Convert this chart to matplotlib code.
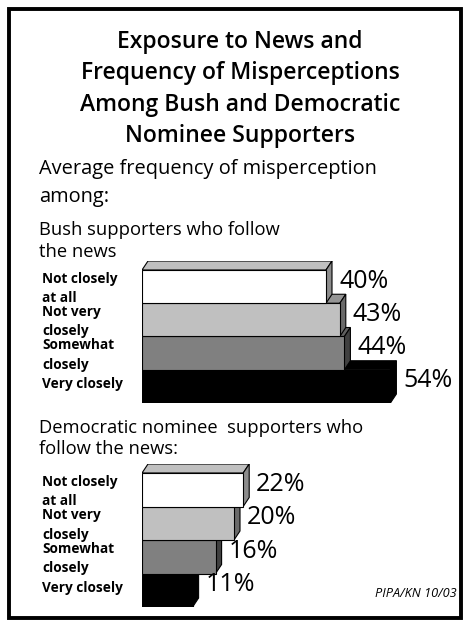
import matplotlib.pyplot as plt
from matplotlib.patches import Polygon, Rectangle
from matplotlib.transforms import offset_copy

plt.rcParams['font.family'] = ['Open Sans', 'DejaVu Sans']

categories = ["Not closely\nat all", "Not very\nclosely", "Somewhat\nclosely", "Very closely"]
bush_values = [40, 43, 44, 54]
dem_values = [22, 20, 16, 11]
bar_colors = ["white", "#c0c0c0", "#808080", "black"]
top_colors = ["#c0c0c0", "#959595", "#606060", "black"]
side_colors = ["#8c8c8c", "#6a6a6a", "#404040", "black"]

W, H = 467, 622
fig = plt.figure(figsize=(W / 100, H / 100), dpi=100)


def fx(x):
    return x / W


def fy(y):
    return 1 - y / H


# outer frame
fig.patches.append(Rectangle((fx(9), fy(618)), fx(452), 609 / H, transform=fig.transFigure,
                             fill=False, edgecolor="black", linewidth=2.8))

title_lines = ["Exposure to News and", "Frequency of Misperceptions",
               "Among Bush and Democratic", "Nominee Supporters"]
for k, line in enumerate(title_lines):
    fig.text(fx(240), fy(48 + 31.3 * k), line, ha="center", va="baseline",
             fontsize=16.5, fontweight="semibold")

fig.text(fx(39), fy(174), "Average frequency of misperception", ha="left", va="baseline", fontsize=14.4)
fig.text(fx(39), fy(202), "among:", ha="left", va="baseline", fontsize=14.4)
fig.text(fx(39), fy(235), "Bush supporters who follow", ha="left", va="baseline", fontsize=13.2)
fig.text(fx(39), fy(257), "the news", ha="left", va="baseline", fontsize=13.2)
fig.text(fx(39), fy(433), "Democratic nominee  supporters who", ha="left", va="baseline", fontsize=13.2)
fig.text(fx(39), fy(454), "follow the news:", ha="left", va="baseline", fontsize=13.2)
fig.text(fx(457), fy(597), "PIPA/KN 10/03", ha="right", va="baseline", fontsize=9.2, style="italic")

px_per_pct = 4.6
dx = 6 / px_per_pct


def draw_group(values, bar_top, bar_bottom):
    n = len(values)
    unit = (bar_bottom - bar_top) / n
    dy = 9 / unit
    ax_h = (n + dy) * unit
    ax = fig.add_axes([fx(142), fy(bar_bottom), 322 / W, ax_h / H])
    ax.set_xlim(0, 322 / px_per_pct)
    ax.set_ylim(n - 0.5, -0.5 - dy)
    ax.axis("off")
    ytrans = ax.get_yaxis_transform()
    # draw from bottom bar to top so upper bars hide lower top faces
    for i in range(n - 1, -1, -1):
        v = values[i]
        top = i - 0.5
        bot = i + 0.5
        ax.add_patch(Polygon([(0, top), (v, top), (v + dx, top - dy), (dx, top - dy)],
                             closed=True, facecolor=top_colors[i], edgecolor="black", linewidth=0.8))
        ax.add_patch(Polygon([(v, top), (v + dx, top - dy), (v + dx, bot - dy), (v, bot)],
                             closed=True, facecolor=side_colors[i], edgecolor="black", linewidth=0.8))
        ax.barh(i, v, height=1.0, color=bar_colors[i], edgecolor="black", linewidth=0.8)
        ax.text(v + dx + 7 / px_per_pct, i, f"{v}%", ha="left", va="baseline", fontsize=18,
                transform=offset_copy(ax.transData, fig=fig, y=-1, units="dots"))
        lines = categories[i].split("\n")
        offsets = [4, -15.5] if len(lines) == 2 else [-1.5]
        for line, off in zip(lines, offsets):
            ax.text(-100 / 322, i, line, ha="left", va="baseline", fontsize=9.8, fontweight="bold",
                    transform=offset_copy(ytrans, fig=fig, y=off, units="dots"))
    return ax


draw_group(bush_values, 270, 403)
draw_group(dem_values, 473, 607)

fig.savefig("out.png", dpi=100)
